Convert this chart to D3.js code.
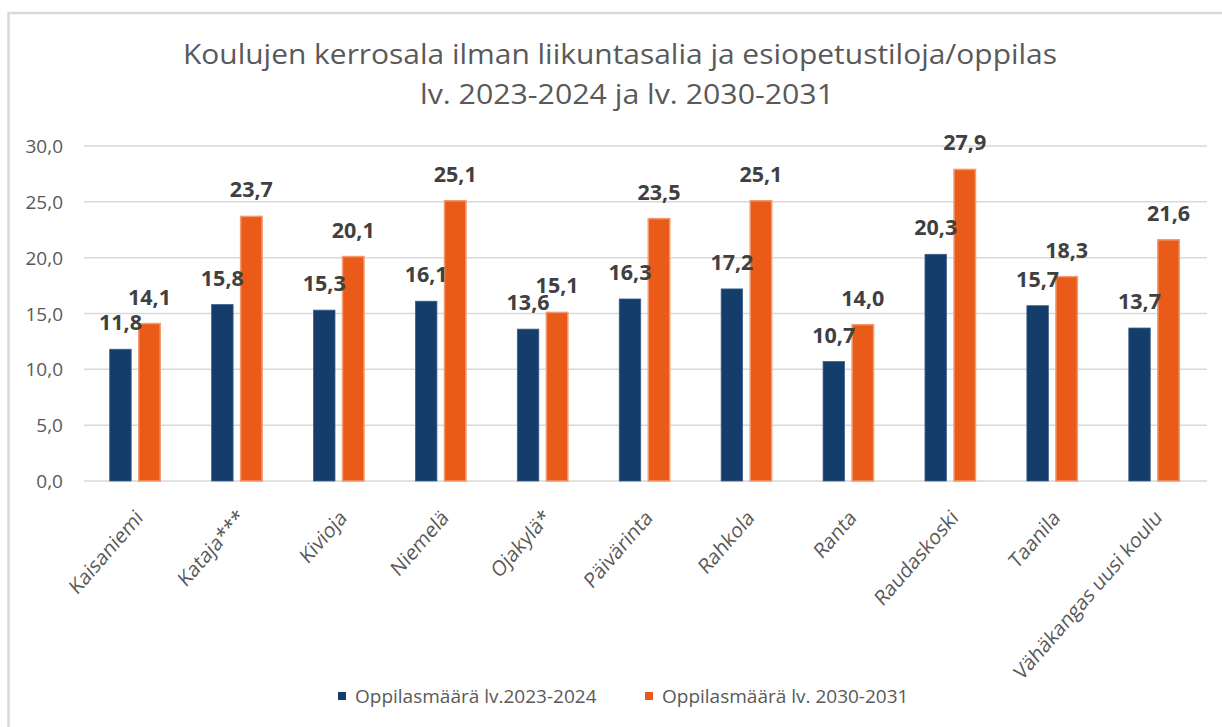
<!DOCTYPE html>
<html>
<head>
<meta charset="utf-8">
<script src="https://cdn.jsdelivr.net/npm/d3@7"></script>
<style>
  html, body { margin: 0; padding: 0; background: #fff; }
  svg { display: block; }
</style>
</head>
<body>
<svg id="chart" width="1222" height="727"></svg>
<script>
// ---- data ----
const titleLines = ["Koulujen kerrosala ilman liikuntasalia ja esiopetustiloja/oppilas", "lv. 2023-2024 ja lv. 2030-2031"];
const categories = ["Kaisaniemi", "Kataja***", "Kivioja", "Niemelä", "Ojakylä*", "Päivärinta", "Rahkola", "Ranta", "Raudaskoski", "Taanila", "Vähäkangas uusi koulu"];
const seriesNames = ["Oppilasmäärä lv.2023-2024", "Oppilasmäärä lv. 2030-2031"];
const values2023 = [11.8, 15.8, 15.3, 16.1, 13.6, 16.3, 17.2, 10.7, 20.3, 15.7, 13.7];
const values2030 = [14.1, 23.7, 20.1, 25.1, 15.1, 23.5, 25.1, 14.0, 27.9, 18.3, 21.6];
const yTicks = [0, 5, 10, 15, 20, 25, 30];
const colors = ["#143d6b", "#ea5b1a"];
const strokes = ["#3d5f88", "#f39a6e"];

// ---- layout ----
const svg = d3.select("#chart");
const fmt = v => d3.format(".1f")(v).replace(".", ",");

// outer frame (clipped at right/bottom like the reference)
svg.append("rect").attr("x", 8.5).attr("y", 13).attr("width", 1240).attr("height", 740)
  .attr("fill", "none").attr("stroke", "#d9d9d9").attr("stroke-width", 2.5);

// title
const titleG = svg.append("g").attr("fill", "#595959").attr("font-family", "'Open Sans', sans-serif").attr("font-size", 27);
titleG.append("text").attr("x", 620).attr("y", 64).attr("text-anchor", "middle")
  .attr("textLength", 874).attr("lengthAdjust", "spacingAndGlyphs").text(titleLines[0]);
titleG.append("text").attr("x", 627).attr("y", 104).attr("text-anchor", "middle")
  .attr("textLength", 414).attr("lengthAdjust", "spacingAndGlyphs").text(titleLines[1]);

const plotLeft = 84, plotRight = 1205;
const x0 = d3.scaleBand().domain(categories).range([plotLeft, plotRight]).padding(0);
const bw = x0.bandwidth();
const x1 = d3.scaleBand().domain(seriesNames).range([bw / 2 - 25.25, bw / 2 + 25.25]).paddingInner(0.26).paddingOuter(0);
const y = d3.scaleLinear().domain([0, 30]).range([481, 146]);

// gridlines
svg.append("g").selectAll("line").data(yTicks).join("line")
  .attr("x1", plotLeft).attr("x2", plotRight + 2)
  .attr("y1", d => y(d)).attr("y2", d => y(d))
  .attr("stroke", "#d9d9d9").attr("stroke-width", 1.5);

// y axis labels
const yAxis = d3.axisLeft(y).tickValues(yTicks).tickFormat(fmt).tickSize(0).tickPadding(0);
const yg = svg.append("g").attr("transform", "translate(63,0)").call(yAxis);
yg.select(".domain").remove();
yg.selectAll("text").attr("fill", "#595959").attr("font-family", "'Open Sans', sans-serif").attr("font-size", 19).attr("dy", "0.35em");

// bars
const rows = categories.map((c, i) => ({ cat: c, vals: [values2023[i], values2030[i]] }));
const groups = svg.append("g").selectAll("g").data(rows).join("g")
  .attr("transform", d => `translate(${x0(d.cat)},0)`);

groups.selectAll("rect").data(d => d.vals.map((v, k) => ({ v, k }))).join("rect")
  .attr("x", d => x1(seriesNames[d.k]))
  .attr("width", x1.bandwidth())
  .attr("y", d => y(d.v))
  .attr("height", d => y(0) - y(d.v))
  .attr("fill", d => colors[d.k])
  .attr("stroke", d => strokes[d.k])
  .attr("stroke-width", d => d.k === 1 ? 1.5 : 0.8);

// data labels
groups.selectAll("text").data(d => d.vals.map((v, k) => ({ v, k }))).join("text")
  .attr("x", d => x1(seriesNames[d.k]) + x1.bandwidth() / 2)
  .attr("y", d => y(d.v) - 19)
  .attr("text-anchor", "middle")
  .attr("font-family", "'Open Sans', sans-serif")
  .attr("font-weight", "bold")
  .attr("font-size", 21.5)
  .attr("fill", "#404040")
  .text(d => fmt(d.v));

// x axis labels (rotated; slightly condensed horizontally like the reference)
svg.append("g").selectAll("text").data(categories).join("text")
  .attr("transform", d => `translate(${x0(d) + bw / 2 + 9},${519}) scale(0.87,1) rotate(-45)`)
  .attr("text-anchor", "end")
  .attr("font-family", "'Open Sans', sans-serif")
  .attr("font-size", 21.5)
  .attr("fill", "#595959")
  .text(d => d);

// legend
const legendX = [338, 645];
const lg = svg.append("g").selectAll("g").data(seriesNames).join("g")
  .attr("transform", (d, i) => `translate(${legendX[i]},0)`);
lg.append("rect").attr("x", 0).attr("y", 692).attr("width", 8).attr("height", 8)
  .attr("fill", (d, i) => colors[i]);
lg.append("text").attr("x", 17).attr("y", 703)
  .attr("font-family", "'Open Sans', sans-serif").attr("font-size", 19)
  .attr("fill", "#595959").text(d => d);
</script>
</body>
</html>
